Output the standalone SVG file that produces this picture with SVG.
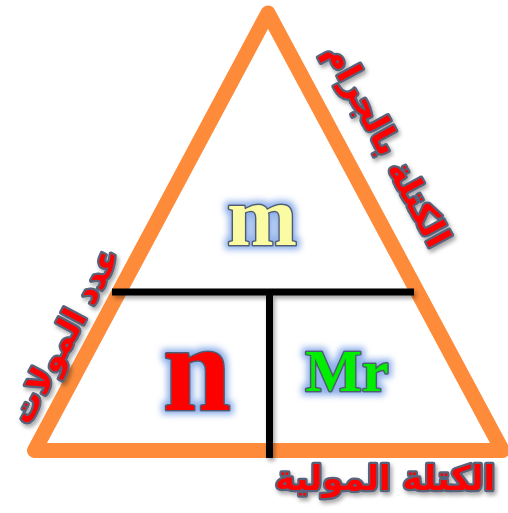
<svg xmlns="http://www.w3.org/2000/svg" width="508" height="513" viewBox="0 0 508 513">
<defs>
<filter id="glow" x="-30%" y="-30%" width="160%" height="160%">
<feMorphology in="SourceAlpha" operator="dilate" radius="3" result="d"/>
<feGaussianBlur in="d" stdDeviation="3" result="b"/>
<feFlood flood-color="#8fb0ea" result="c"/>
<feComposite in="c" in2="b" operator="in" result="g"/>
<feMerge><feMergeNode in="g"/><feMergeNode in="SourceGraphic"/></feMerge>
</filter>
<filter id="shadow" x="-20%" y="-20%" width="140%" height="140%">
<feGaussianBlur in="SourceAlpha" stdDeviation="2"/>
<feOffset dx="2" dy="3" result="o"/>
<feComponentTransfer in="o" result="s"><feFuncA type="linear" slope="0.35"/></feComponentTransfer>
<feMerge><feMergeNode in="s"/><feMergeNode in="SourceGraphic"/></feMerge>
</filter>
</defs>
<style>
.tri{fill:none;stroke:#fd8b3a;stroke-width:15;stroke-linejoin:round}
.bar{stroke:#000;stroke-width:7;fill:none}
.sym{font-family:"Liberation Serif",serif;font-weight:bold;text-anchor:middle;stroke:#4f5d72;stroke-width:3;paint-order:stroke;stroke-linejoin:round}
.ar{font-family:"DejaVu Sans",sans-serif;font-weight:bold;text-anchor:middle;fill:#ff0000;stroke:#56647a;stroke-width:4.5;paint-order:stroke;stroke-linejoin:round}
</style>
<rect width="508" height="513" fill="#fff"/>
<g id="triangle">
<polygon class="tri" points="268,13 34.5,450.5 502.5,450.5"/>
</g>
<g id="connectors" filter="url(#shadow)">
<line class="bar" x1="112" y1="292" x2="414" y2="292"/>
<line class="bar" x1="269.5" y1="292" x2="269.5" y2="458"/>
</g>
<g id="node-m" filter="url(#glow)">
<text class="sym" x="262" y="245" font-size="84" fill="#fbfba4">m</text>
</g>
<g id="node-n" filter="url(#glow)">
<text class="sym" x="197" y="410" font-size="122" fill="#ff0000">n</text>
</g>
<g id="node-Mr" filter="url(#glow)">
<text class="sym" x="347" y="391" font-size="60" fill="#00ee00">Mr</text>
</g>
<g id="label-mass" filter="url(#shadow)">
<text class="ar" font-size="34" transform="translate(388,145) rotate(61.8)" y="12">الكتلة بالجرام</text>
</g>
<g id="label-moles" filter="url(#shadow)">
<text class="ar" font-size="33" transform="translate(64,335) rotate(-61.8)" y="12">عدد المولات</text>
</g>
<g id="label-molar" filter="url(#shadow)">
<text class="ar" font-size="34" x="385" y="490">الكتلة المولية</text>
</g>
</svg>
